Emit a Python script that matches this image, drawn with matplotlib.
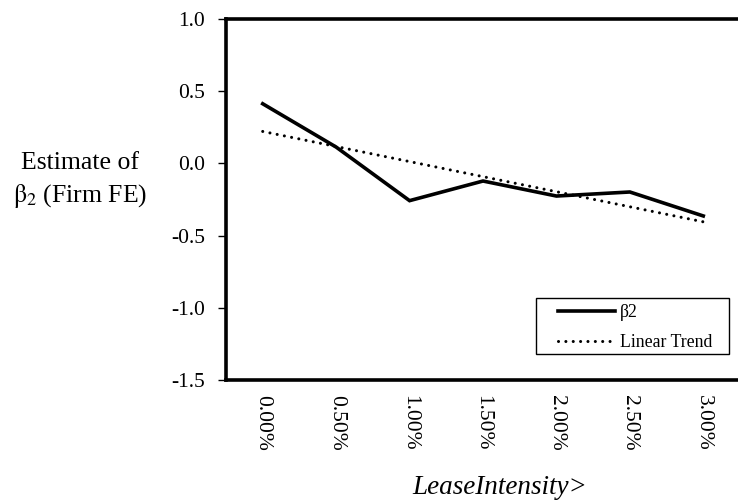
import numpy as np
import matplotlib
matplotlib.use("Agg")
import matplotlib.pyplot as plt
from matplotlib.patches import Rectangle

categories = ["0.00%", "0.50%", "1.00%", "1.50%", "2.00%", "2.50%", "3.00%"]
beta2 = [0.413, 0.113, -0.258, -0.122, -0.226, -0.198, -0.364]
yticks = [-1.5, -1.0, -0.5, 0.0, 0.5, 1.0]
ytick_labels = ["-1.5", "-1.0", "-0.5", "0.0", "0.5", "1.0"]

plt.rcParams['font.family'] = ['Liberation Serif', 'DejaVu Serif']
plt.rcParams['mathtext.fontset'] = 'stix'

W, H = 738, 504
fig = plt.figure(figsize=(W/100, H/100), dpi=100)
ax = fig.add_axes([226/W, 1-380/H, (740-226)/W, (380-19)/H])

x = np.arange(len(categories))
ax.plot(x, beta2, color='black', lw=2.6, solid_joinstyle='miter', label=r'β2')
coef = np.polyfit(x, beta2, 1)
trend = np.polyval(coef, x)
ax.plot(x, trend, color='black', lw=2.2, linestyle=(0, (0.01, 2.4)), dash_capstyle='round', label='Linear Trend')

ax.set_xlim(-0.5, len(categories) - 0.5)
ax.set_ylim(-1.5, 1.0)
ax.set_yticks(yticks)
ax.set_yticklabels(ytick_labels, fontsize=15.5)
ax.set_xticks(x)
ax.set_xticklabels(categories, rotation=-90, fontsize=15.5)
ax.tick_params(axis='x', length=0, pad=11)
ax.tick_params(axis='y', length=6, width=1.0, direction='out', pad=9)

for side in ['left', 'top', 'bottom']:
    ax.spines[side].set_linewidth(2.6)
ax.spines['right'].set_visible(False)

box = Rectangle((536/W, 1-354/H), (729-536)/W, (354-298)/H,
                transform=fig.transFigure, facecolor='white',
                edgecolor='black', lw=1.0, zorder=4, clip_on=False)
ax.add_artist(box)
leg = ax.legend(loc='upper left', bbox_to_anchor=(558/W, 1-304/H), bbox_transform=fig.transFigure,
                borderaxespad=0, borderpad=0, frameon=False, fontsize=12.8,
                handlelength=3.2, handletextpad=0.3, labelspacing=0.72)
leg.set_zorder(6)

fig.text(80/W, 1-163/H, "Estimate of", ha='center', va='center', fontsize=18.5)
fig.text(80/W, 1-196/H, r"$\mathrm{\beta}_2$ (Firm FE)", ha='center', va='center', fontsize=18.5)
fig.text(500/W, 1-487/H, "LeaseIntensity>", ha='center', va='center', fontsize=19.5, style='italic')

fig.savefig("out.png", dpi=100)
